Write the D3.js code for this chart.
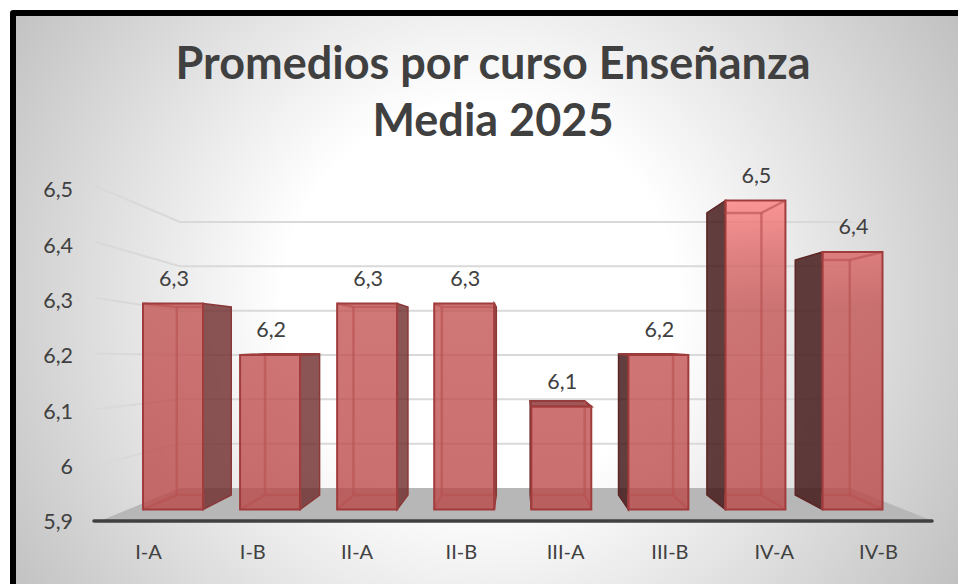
<!DOCTYPE html>
<html lang="es">
<head>
    <meta charset="UTF-8">
    <title>Promedios por curso</title>
    <script src="https://d3js.org/d3.v7.min.js"></script>
    <style>
        html, body { margin: 0; padding: 0; background: #fff; }
        svg { display: block; }
        text { font-family: Lato, "Open Sans", sans-serif; fill: #404040; }
        .axis path, .axis line { display: none; }
        .axis text { font-size: 21.5px; font-family: Lato, "Open Sans", sans-serif; fill: #404040; }
        .cat-axis text { font-size: 20px; }
        .title { font-size: 45px; font-weight: 700; text-anchor: middle; }
        .grid { fill: none; stroke: #d9d9d9; stroke-width: 2px; }
        .edge { fill: none; stroke: #b85050; stroke-width: 2.5px; stroke-opacity: .6; }
    </style>
</head>
<body>
    <svg width="958" height="584"></svg>

    <script>
        const titleLines = ["Promedios por curso Enseñanza", "Media 2025"];
        const cursos = ["I-A", "I-B", "II-A", "II-B", "III-A", "III-B", "IV-A", "IV-B"];
        const promedios = [6.3, 6.2, 6.3, 6.3, 6.1, 6.2, 6.5, 6.4];
        const yTicks = [5.9, 6, 6.1, 6.2, 6.3, 6.4, 6.5];

        const svg = d3.select("svg");
        const esLocale = d3.formatLocale({decimal: ",", thousands: ".", grouping: [3], currency: ["$", ""]});
        const fmt = esLocale.format(".2~f");

        // the 3D box has a front plane and a back plane, each with its own scales
        const xFront = d3.scalePoint().domain(cursos).range([173, 852.5]);
        const xBack = d3.scalePoint().domain(cursos).range([204, 822.5]);
        const xLabel = d3.scalePoint().domain(cursos).range([148, 878]);
        const yFront = d3.scaleLinear().domain([5.9, 6.5]).range([509.5, 200.5]);
        const yBack = d3.scaleLinear().domain([5.9, 6.5]).range([495, 213]);
        const yWall = d3.scaleLinear().domain([5.9, 6.5]).range([488, 222]);
        const ySide = d3.scaleLinear().domain([5.9, 6.5]).range([521, 186]);
        const yLabel = d3.scaleLinear().domain([5.9, 6.5]).range([522, 190]);
        const frontW = 60, backW = 54.5;

        const defs = svg.append("defs");
        const bg = defs.append("radialGradient").attr("id", "bg")
            .attr("gradientUnits", "userSpaceOnUse")
            .attr("cx", 480).attr("cy", 300).attr("r", 560);
        [[0, "#ffffff"], [0.35, "#ffffff"], [0.75, "#d8d8d8"], [1, "#c0c0c0"]].forEach(s =>
            bg.append("stop").attr("offset", s[0]).attr("stop-color", s[1]));

        const barFill = defs.append("linearGradient").attr("id", "barFill")
            .attr("gradientUnits", "userSpaceOnUse")
            .attr("x1", 0).attr("x2", 0).attr("y1", 199).attr("y2", 509);
        [[0, "#ff7d7d"], [0.17, "#dc6262"], [0.35, "#c25050"], [1, "#bb4646"]].forEach(s =>
            barFill.append("stop").attr("offset", s[0]).attr("stop-color", s[1]));

        // frame and background
        svg.append("rect").attr("x", 10).attr("y", 10).attr("width", 960).attr("height", 600).attr("rx", 3).attr("fill", "#000");
        svg.append("rect").attr("x", 16).attr("y", 16).attr("width", 942).attr("height", 568).attr("fill", "url(#bg)");

        // title
        svg.selectAll(".title").data(titleLines).enter().append("text")
            .attr("class", "title")
            .attr("x", 493)
            .attr("y", (d, i) => i === 0 ? 79 : 136)
            .text(d => d);

        // gridlines on side and back wall
        const grid = svg.append("g");
        grid.selectAll("path").data(yTicks.filter(d => d > 5.9)).enter().append("path")
            .attr("class", "grid")
            .attr("d", d => d3.line()([[95, ySide(d)], [180, yWall(d)], [852, yWall(d)]]));

        // floor
        svg.append("path")
            .attr("d", d3.line()([[100, ySide(5.9)], [180, yWall(5.9)], [850, yWall(5.9)], [933, ySide(5.9)]]) + "Z")
            .attr("fill", "#b7b7b7");
        svg.append("line")
            .attr("x1", 94).attr("x2", 932).attr("y1", ySide(5.9)).attr("y2", ySide(5.9))
            .attr("stroke", "#404040").attr("stroke-width", 3.5).attr("stroke-linecap", "round");

        // bars
        const bars = svg.append("g").selectAll("g")
            .data(cursos.map((c, i) => ({curso: c, valor: promedios[i]})))
            .enter().append("g");

        bars.each(function(d) {
            const g = d3.select(this);
            const fl = xFront(d.curso) - frontW / 2, fr = fl + frontW;
            const bl = xBack(d.curso) - backW / 2, br = bl + backW;
            const ft = yFront(d.valor), fb = yFront(5.9);
            const bt = yBack(d.valor), bb = yBack(5.9);
            const poly = pts => d3.line()(pts) + "Z";

            // outer dark side
            if (br > fr) {
                g.append("path").attr("d", poly([[fr, ft], [br, bt], [br, bb], [fr, fb]]))
                    .attr("fill", "#6f2a2a").attr("fill-opacity", .8)
                    .attr("stroke", "#8a3838").attr("stroke-width", 1.5);
            }
            if (bl < fl) {
                g.append("path").attr("d", poly([[fl, ft], [bl, bt], [bl, bb], [fl, fb]]))
                    .attr("fill", "#3f1414").attr("fill-opacity", .82)
                    .attr("stroke", "#5f2424").attr("stroke-width", 1.5);
            }
            // top face only seen from above on the short bars
            if (bt < ft) {
                g.append("path").attr("d", poly([[fl, ft], [fr, ft], [br, bt], [bl, bt]]))
                    .attr("fill", "#8f3a3a").attr("fill-opacity", .85)
                    .attr("stroke", "#943c3c").attr("stroke-width", 2);
            }
            // front face
            g.append("rect")
                .attr("x", fl).attr("y", ft).attr("width", frontW).attr("height", fb - ft)
                .attr("fill", "url(#barFill)").attr("fill-opacity", .78);
            // inner edges of the box, seen through the front
            g.append("path").attr("class", "edge")
                .attr("d", d3.line()([[fl, fb], [Math.max(bl, fl), bb], [Math.min(br, fr), bb], [fr, fb]]));
            if (bl > fl) {
                g.append("line").attr("class", "edge")
                    .attr("x1", bl).attr("x2", bl).attr("y1", bt).attr("y2", bb);
            }
            if (br < fr) {
                g.append("line").attr("class", "edge")
                    .attr("x1", br).attr("x2", br).attr("y1", bt).attr("y2", bb);
            }
            if (bt > ft) {
                g.append("path").attr("class", "edge")
                    .attr("d", d3.line()([[fl, ft], [Math.max(bl, fl), bt], [Math.min(br, fr), bt], [fr, ft]]));
            }
            g.append("rect")
                .attr("x", fl).attr("y", ft).attr("width", frontW).attr("height", fb - ft)
                .attr("fill", "none").attr("stroke", "#a03c3c").attr("stroke-width", 2);
        });

        // data labels
        svg.append("g").selectAll("text")
            .data(promedios).enter().append("text")
            .attr("x", (d, i) => xFront(cursos[i]) + 1)
            .attr("y", d => yFront(d) - 18)
            .attr("text-anchor", "middle")
            .attr("font-size", 21.5)
            .text(d => fmt(d));

        // axes
        svg.append("g").attr("class", "axis")
            .attr("transform", "translate(73,0)")
            .call(d3.axisLeft(yLabel).tickValues(yTicks).tickFormat(fmt).tickSize(0).tickPadding(0));
        svg.append("g").attr("class", "axis cat-axis")
            .attr("transform", "translate(0,545)")
            .call(d3.axisBottom(xLabel).tickSize(0).tickPadding(0));
    </script>
</body>
</html>
